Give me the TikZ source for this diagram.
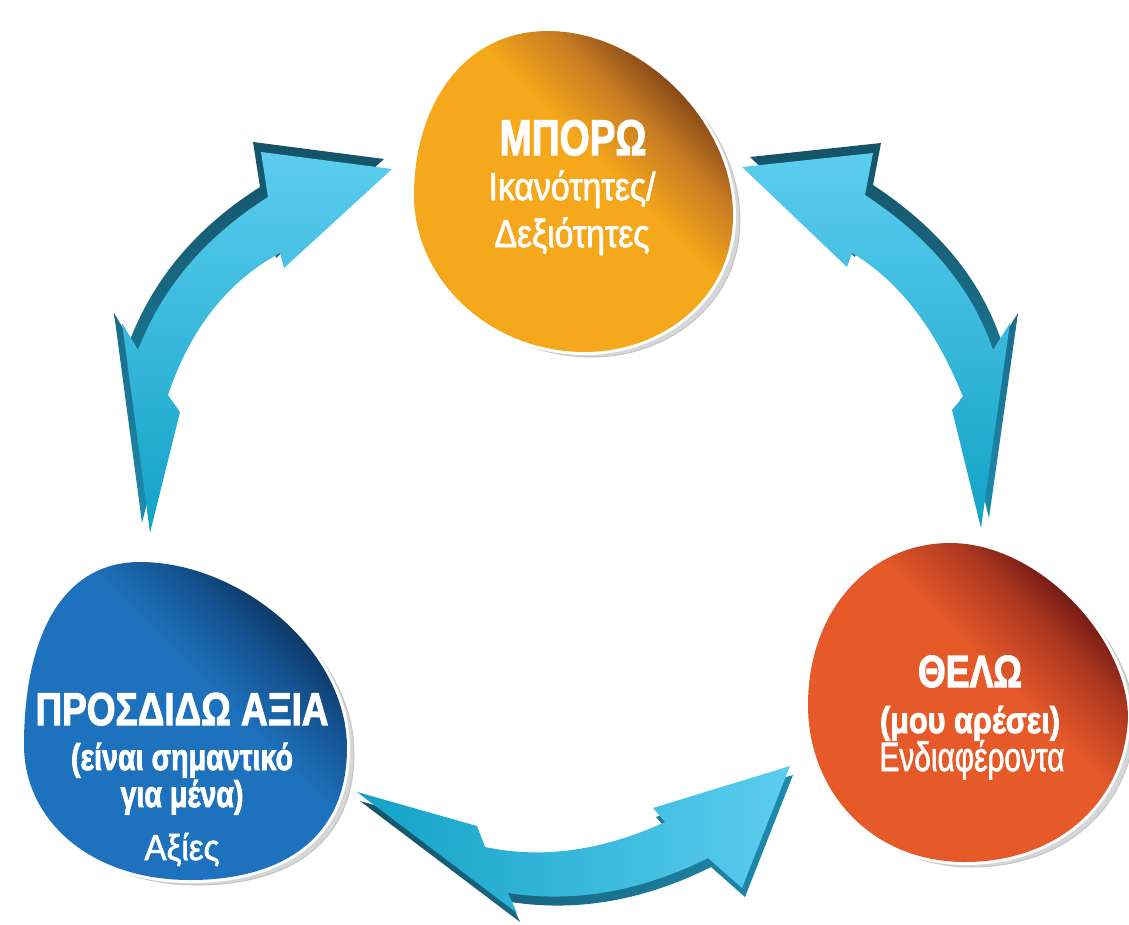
\documentclass[tikz,border=0pt]{standalone}
\usepackage{fontspec}
\setmainfont{Liberation Sans}
\newfontfamily\regf[FakeBold=2]{Liberation Sans}
\newfontfamily\boldf[FakeBold=2.5]{Liberation Sans Bold}
\usepackage{graphicx}
\definecolor{orA}{HTML}{F6A81C}
\definecolor{orB}{HTML}{C47A22}
\definecolor{orC}{HTML}{6E3412}
\definecolor{blA}{HTML}{1E72BD}
\definecolor{blB}{HTML}{14528F}
\definecolor{blC}{HTML}{0A2A4D}
\definecolor{rdA}{HTML}{E55A28}
\definecolor{rdB}{HTML}{B13A22}
\definecolor{rdC}{HTML}{5C0F0E}
\definecolor{cyL}{HTML}{5CCDEF}
\definecolor{cyD}{HTML}{12A2C7}
\definecolor{tlD}{HTML}{155367}
\definecolor{tlM}{HTML}{1E8AAE}
\definecolor{rimc}{HTML}{D4D6D8}
\pgfdeclareverticalshading{orsh}{100bp}{color(0bp)=(orA); color(56bp)=(orA); color(66bp)=(orB); color(76bp)=(orC); color(100bp)=(orC)}
\pgfdeclareverticalshading{blsh}{100bp}{color(0bp)=(blA); color(56bp)=(blA); color(66bp)=(blB); color(76bp)=(blC); color(100bp)=(blC)}
\pgfdeclareverticalshading{rdsh}{100bp}{color(0bp)=(rdA); color(56bp)=(rdA); color(66bp)=(rdB); color(76bp)=(rdC); color(100bp)=(rdC)}
\newcommand\BlobO{(548,31) .. controls (640,31) and (733,120) .. (733,215) .. controls (733,300) and (660,352) .. (585,352) .. controls (490,352) and (414,280) .. (414,195) .. controls (414,110) and (460,31) .. (548,31) -- cycle}
\newcommand\BlobB{(140,562) .. controls (240,562) and (347,650) .. (347,748) .. controls (347,840) and (280,880) .. (190,880) .. controls (90,880) and (24,820) .. (24,745) .. controls (24,640) and (60,562) .. (140,562) -- cycle}
\newcommand\BlobR{(950,543) .. controls (1040,543) and (1128,640) .. (1128,718) .. controls (1124,805) and (1055,862) .. (965,862) .. controls (870,862) and (808,790) .. (808,705) .. controls (808,610) and (870,543) .. (950,543) -- cycle}
\newcommand\ArrL{(392,169) -- (284,268) -- (280,253) .. controls (228,281) and (190,329) .. (168,395) -- (180,412) -- (150,533) -- (122,323) -- (138,350) .. controls (162,288) and (205,237) .. (268,197) -- (261,152) -- cycle}
\newcommand\ArrR{(742,167) -- (873,153) -- (865,195) .. controls (929,237) and (972,288) .. (993,350) -- (1010,323) -- (981,528) -- (952,410) -- (963,397) .. controls (936,329) and (899,281) .. (852,253) -- (847,267) -- cycle}
\newcommand\ArrB{(357,792) -- (477,826) -- (485,847) .. controls (542,859) and (602,851) .. (665,822) -- (653,808) -- (790,766) -- (742,888) -- (708,858) .. controls (640,892) and (573,903) .. (508,893) -- (517,913) -- cycle}
\newcommand\fw[2]{\resizebox{#1pt}{\height}{#2}}
\begin{document}
\begin{tikzpicture}[x=1pt,y=-1pt,
  txt/.style={text=white, inner sep=0pt, anchor=base},
  rim/.style={fill=rimc, draw=gray!45, line width=1pt},
  ring/.style={draw=white, line width=6pt}]
\useasboundingbox (0,0) rectangle (1129,924);
% blobs
\fill[rim, shift={(7,5)}] \BlobO;
\draw[ring] \BlobO;
\shade[shading=orsh, shading angle=-45] \BlobO;
\fill[rim, shift={(7,5)}] \BlobB;
\draw[ring] \BlobB;
\shade[shading=blsh, shading angle=-45] \BlobB;
\fill[rim, shift={(7,5)}] \BlobR;
\draw[ring] \BlobR;
\shade[shading=rdsh, shading angle=-45] \BlobR;
% arrows: extruded side, then face
\shade[top color=tlD, bottom color=tlM, shift={(-8,-10)}] \ArrL;
\shade[top color=cyL, bottom color=cyD] \ArrL;
\shade[top color=tlD, bottom color=tlM, shift={(8,-10)}] \ArrR;
\shade[top color=cyL, bottom color=cyD] \ArrR;
\shade[left color=tlD, right color=tlM, shift={(3,9)}] \ArrB;
\shade[left color=cyD, right color=cyL] \ArrB;
% texts
\node[txt] (o1) at (573,155) {\boldf\fontsize{50}{50}\selectfont\fw{147}{ΜΠΟΡΩ}};
\node[txt] (o2) at (572,200) {\regf\fontsize{39}{40}\selectfont\fw{167}{Ικανότητες/}};
\node[txt] (o3) at (572,247) {\regf\fontsize{39}{40}\selectfont\fw{155}{Δεξιότητες}};
\node[txt] (b1) at (182,725) {\boldf\fontsize{46}{46}\selectfont\fw{293}{ΠΡΟΣΔΙΔΩ ΑΞΙΑ}};
\node[txt] (b2) at (182,770) {\boldf\fontsize{37}{38}\selectfont\fw{222}{(είναι σημαντικό}};
\node[txt] (b3) at (182,807) {\boldf\fontsize{37}{38}\selectfont\fw{123}{για μένα)}};
\node[txt] (b4) at (182,860) {\regf\fontsize{36}{37}\selectfont\fw{75}{Αξίες}};
\node[txt] (r1) at (970,687) {\boldf\fontsize{45}{45}\selectfont\fw{104}{ΘΕΛΩ}};
\node[txt] (r2) at (970,733) {\boldf\fontsize{37}{38}\selectfont\fw{180}{(μου αρέσει)}};
\node[txt] (r3) at (972,771) {\regf\fontsize{41}{42}\selectfont\fw{185}{Ενδιαφέροντα}};
\end{tikzpicture}
\end{document}
